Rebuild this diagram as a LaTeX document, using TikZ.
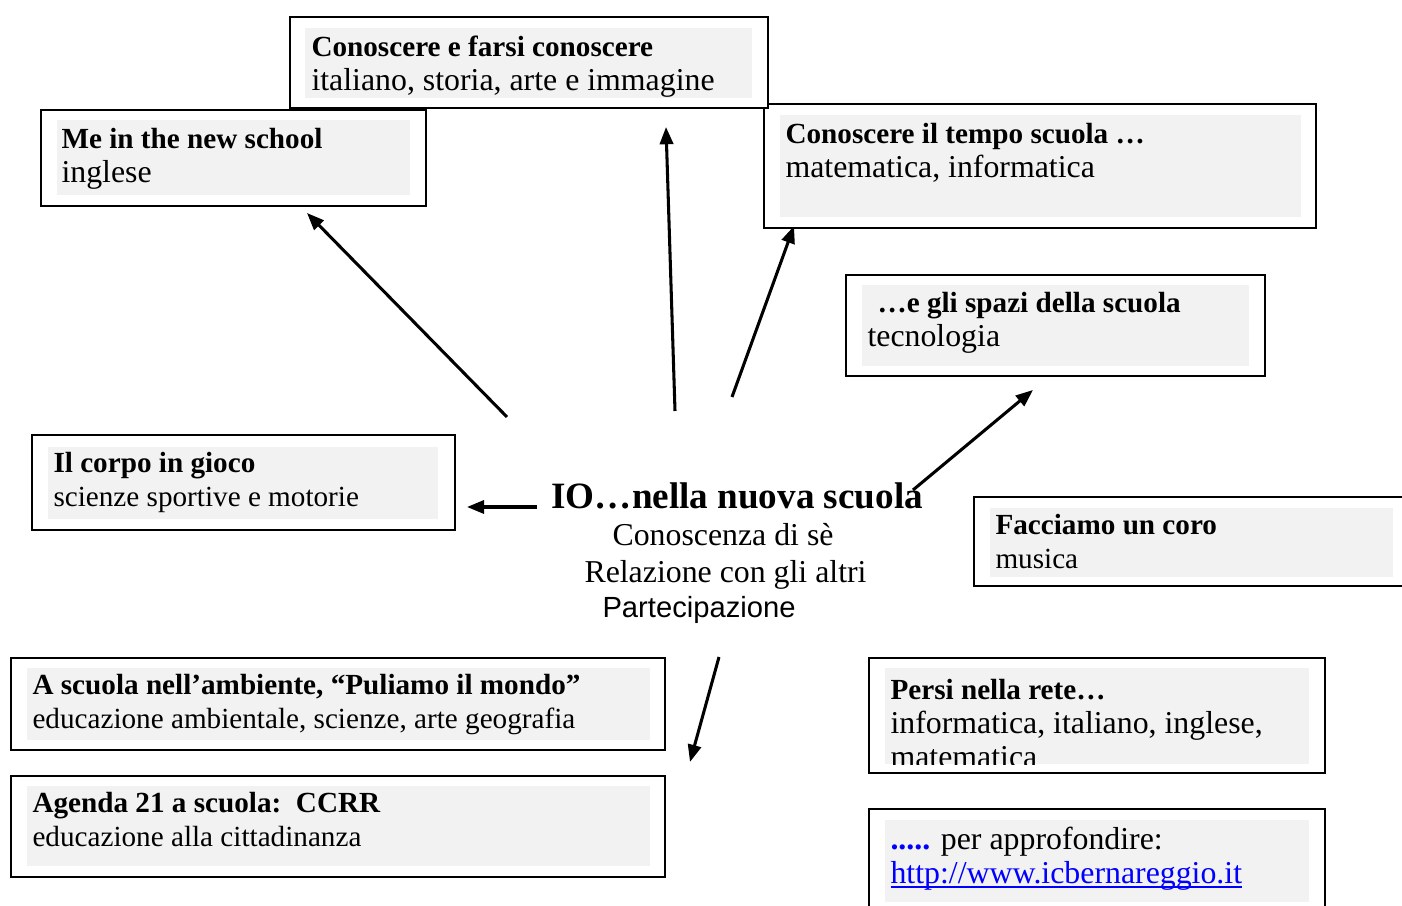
\documentclass[tikz,border=0pt]{standalone}
\usepackage{fontspec}
\setmainfont{Liberation Serif}
\setsansfont{Liberation Sans}
\usetikzlibrary{arrows.meta,fit}
\definecolor{panelgray}{HTML}{F2F2F2}
\definecolor{linkblue}{HTML}{0000FF}
\newcommand{\boxtitle}[1]{{\bfseries\fontsize{11}{13}\selectfont #1}}
\newcommand{\linkline}[1]{{\color{linkblue}\setbox0\hbox{#1}\rlap{\rule[-1.5pt]{\wd0}{0.6pt}}\box0}}

\begin{document}
\begin{tikzpicture}
    [
        x=0.377pt, y=-0.377pt,
        boxframe/.style={draw, line width=0.75pt, fill=white, inner sep=0pt},
        panel/.style={fill=panelgray, inner sep=0pt},
        % anchored at the baseline of the last line
        boxtext/.style={anchor=base west, inner sep=0pt, align=left, font=\fontsize{12}{13}\selectfont},
        smalltext/.style={boxtext, font=\fontsize{11}{13}\selectfont},
        centertext/.style={anchor=base west, inner sep=0pt},
        arr/.style={line width=1.15pt, -{Triangle[length=6.5pt,width=5pt]}},
    ]
  \useasboundingbox (0,0) rectangle (1402,906);

  % Arrow ends
  \coordinate (aS) at (507,417);  \coordinate (aE) at (307,213);
  \coordinate (bS) at (675,411);  \coordinate (bE) at (666,127);
  \coordinate (cS) at (732,397);  \coordinate (cE) at (794,226);
  \coordinate (dS) at (913,490);  \coordinate (dE) at (1033,390);
  \coordinate (eS) at (537,507);  \coordinate (eE) at (467,507);
  \coordinate (fS) at (719,657);  \coordinate (fE) at (690,762);

  % Connections
  \draw [arr] (aS) -- (aE);
  \draw [arr] (bS) -- (bE);
  \draw [arr] (cS) -- (cE);
  \draw [arr] (eS) -- (eE);
  \draw [arr] (fS) -- (fE);

  % Boxes
  \node [boxframe, fit={(41,110) (426,206)}] (schoolF) {};
  \node [panel, fit={(57,120) (410,195)}] (schoolP) {};
  \node [boxtext] (school) at (61,183) {\boxtitle{Me in the new school}\\inglese};

  \node [boxframe, fit={(764,104) (1316,228)}] (tempoF) {};
  \node [panel, fit={(780,115) (1301,217)}] (tempoP) {};
  \node [boxtext] (tempo) at (785,178) {\boxtitle{Conoscere il tempo scuola …}\\matematica, informatica};

  \node [boxframe, fit={(290,17) (768,108)}] (farsiF) {};
  \node [panel, fit={(305,28) (752,98)}] (farsiP) {};
  \node [boxtext] (farsi) at (311,91) {\boxtitle{Conoscere e farsi conoscere}\\italiano, storia, arte e immagine};

  \node [boxframe, fit={(846,275) (1265,376)}] (spaziF) {};
  \node [panel, fit={(862,285) (1249,366)}] (spaziP) {};
  \node [boxtext] (spazi) at (867,347) {\boxtitle{\hspace*{3.8pt}…e gli spazi della scuola}\\tecnologia};

  \node [boxframe, fit={(32,435) (455,530)}] (corpoF) {};
  \node [panel, fit={(48,447) (438,519)}] (corpoP) {};
  \node [smalltext] (corpo) at (53,507) {\boxtitle{Il corpo in gioco}\\scienze sportive e motorie};

  \node [boxframe, fit={(974,497) (1412,586)}] (coroF) {};
  \node [panel, fit={(990,508) (1393,577)}] (coroP) {};
  \node [smalltext] (coro) at (995,569) {\boxtitle{Facciamo un coro}\\musica};

  \node [boxframe, fit={(11,658) (665,750)}] (ambienteF) {};
  \node [panel, fit={(27,668) (650,740)}] (ambienteP) {};
  \node [smalltext] (ambiente) at (32,729) {\boxtitle{A scuola nell’ambiente, “Puliamo il mondo”}\\educazione ambientale, scienze, arte geografia};

  \node [boxframe, fit={(869,658) (1325,773)}] (reteF) {};
  \node [panel, fit={(885,668) (1309,764)}] (reteP) {};
  \begin{scope}
    \clip (reteP.south west) rectangle (reteP.north east);
    \node [boxtext] (rete) at (890,768) {\boxtitle{Persi nella rete…}\\informatica, italiano, inglese,\\matematica};
  \end{scope}

  \node [boxframe, fit={(11,776) (665,877)}] (agendaF) {};
  \node [panel, fit={(27,786) (650,866)}] (agendaP) {};
  \node [smalltext] (agenda) at (32,847) {\boxtitle{Agenda 21 a scuola:\ \ CCRR}\\educazione alla cittadinanza};

  \node [boxframe, fit={(869,809) (1325,930)}] (linkF) {};
  \node [panel, fit={(885,820) (1309,902)}] (linkP) {};
  \node [boxtext] (link) at (890,884) {{\bfseries\color{linkblue}.....} per approfondire:\\\linkline{http://www.icbernareggio.it}};

  % Centre
  \node [centertext, font=\bfseries\fontsize{14}{16}\selectfont] (io) at (551,509) {IO…nella nuova scuola};
  \node [centertext, font=\fontsize{12}{13}\selectfont] (conosc) at (612,546) {Conoscenza di sè};
  \node [centertext, font=\fontsize{12}{13}\selectfont] (relaz) at (584,583) {Relazione con gli altri};
  \node [centertext, font=\sffamily\fontsize{11}{13}\selectfont] (partec) at (602,618) {Partecipazione};

  \draw [arr] (dS) -- (dE);
\end{tikzpicture}
\end{document}
